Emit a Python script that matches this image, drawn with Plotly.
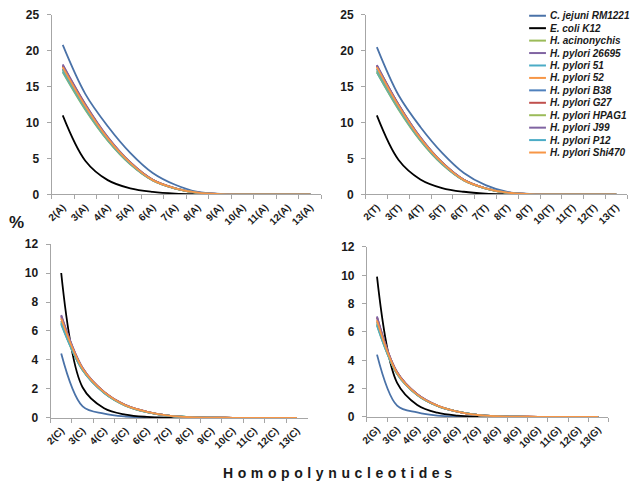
import plotly.graph_objects as go

W, H = 631, 491
FONT = "Arial, Liberation Sans, sans-serif"

strains = ["C. jejuni RM1221", "E. coli K12", "H. acinonychis", "H. pylori 26695",
           "H. pylori 51", "H. pylori 52", "H. pylori B38", "H. pylori G27",
           "H. pylori HPAG1", "H. pylori J99", "H. pylori P12", "H. pylori Shi470"]
colors = ["#4a72a8", "#000000", "#9bbb59", "#8064a2", "#4bacc6", "#f79646",
          "#4f81bd", "#c0504d", "#9bbb59", "#8064a2", "#4bacc6", "#f79646"]

cats_A = ["2(A)", "3(A)", "4(A)", "5(A)", "6(A)", "7(A)", "8(A)", "9(A)", "10(A)", "11(A)", "12(A)", "13(A)"]
cats_T = ["2(T)", "3(T)", "4(T)", "5(T)", "6(T)", "7(T)", "8(T)", "9(T)", "10(T)", "11(T)", "12(T)", "13(T)"]
cats_C = ["2(C)", "3(C)", "4(C)", "5(C)", "6(C)", "7(C)", "8(C)", "9(C)", "10(C)", "11(C)", "12(C)", "13(C)"]
cats_G = ["2(G)", "3(G)", "4(G)", "5(G)", "6(G)", "7(G)", "8(G)", "9(G)", "10(G)", "11(G)", "12(G)", "13(G)"]

# percentages, one row per strain (same order as `strains`)
pct_A = [
    [20.8, 14.0, 9.5, 5.8, 3.0, 1.35, 0.35, 0.08, 0.02, 0.01, 0.0, 0.0],
    [11.0, 4.7, 2.0, 0.85, 0.36, 0.13, 0.05, 0.02, 0.01, 0.0, 0.0, 0.0],
    [17.0, 11.8, 7.5, 4.2, 1.95, 0.82, 0.24, 0.06, 0.02, 0.01, 0.0, 0.0],
    [18.1, 12.6, 8.0, 4.5, 2.05, 0.87, 0.26, 0.07, 0.02, 0.01, 0.0, 0.0],
    [17.1, 11.9, 7.55, 4.25, 1.95, 0.82, 0.24, 0.06, 0.02, 0.0, 0.0, 0.0],
    [17.8, 12.4, 7.85, 4.4, 2.0, 0.85, 0.25, 0.06, 0.02, 0.01, 0.0, 0.0],
    [17.5, 12.2, 7.7, 4.35, 2.0, 0.84, 0.25, 0.06, 0.02, 0.0, 0.0, 0.0],
    [17.9, 12.5, 7.9, 4.45, 2.05, 0.86, 0.26, 0.07, 0.02, 0.01, 0.0, 0.0],
    [17.3, 12.0, 7.6, 4.3, 1.97, 0.83, 0.24, 0.06, 0.02, 0.0, 0.0, 0.0],
    [18.0, 12.5, 7.95, 4.45, 2.05, 0.87, 0.26, 0.07, 0.02, 0.01, 0.0, 0.0],
    [17.4, 12.1, 7.65, 4.3, 1.98, 0.84, 0.25, 0.06, 0.02, 0.0, 0.0, 0.0],
    [17.7, 12.3, 7.8, 4.4, 2.0, 0.85, 0.25, 0.06, 0.02, 0.01, 0.0, 0.0],
]
pct_T = [
    [20.5, 13.8, 9.4, 5.8, 3.0, 1.3, 0.35, 0.08, 0.02, 0.01, 0.0, 0.0],
    [11.0, 4.8, 2.1, 0.9, 0.38, 0.13, 0.05, 0.02, 0.01, 0.0, 0.0, 0.0],
    [17.0, 11.8, 7.5, 4.2, 1.95, 0.82, 0.24, 0.06, 0.02, 0.01, 0.0, 0.0],
    [18.0, 12.5, 7.95, 4.45, 2.05, 0.87, 0.26, 0.07, 0.02, 0.01, 0.0, 0.0],
    [17.0, 11.9, 7.55, 4.25, 1.95, 0.82, 0.24, 0.06, 0.02, 0.0, 0.0, 0.0],
    [17.8, 12.4, 7.85, 4.4, 2.0, 0.85, 0.25, 0.06, 0.02, 0.01, 0.0, 0.0],
    [17.5, 12.2, 7.7, 4.35, 2.0, 0.84, 0.25, 0.06, 0.02, 0.0, 0.0, 0.0],
    [17.9, 12.5, 7.9, 4.45, 2.05, 0.86, 0.26, 0.07, 0.02, 0.01, 0.0, 0.0],
    [17.2, 12.0, 7.6, 4.3, 1.97, 0.83, 0.24, 0.06, 0.02, 0.0, 0.0, 0.0],
    [18.0, 12.5, 7.95, 4.45, 2.05, 0.87, 0.26, 0.07, 0.02, 0.01, 0.0, 0.0],
    [17.4, 12.1, 7.65, 4.3, 1.98, 0.84, 0.25, 0.06, 0.02, 0.0, 0.0, 0.0],
    [17.7, 12.3, 7.8, 4.4, 2.0, 0.85, 0.25, 0.06, 0.02, 0.01, 0.0, 0.0],
]
pct_C = [
    [4.45, 0.8, 0.3, 0.1, 0.03, 0.01, 0.0, 0.0, 0.0, 0.0, 0.0, 0.0],
    [10.0, 2.1, 0.67, 0.23, 0.07, 0.02, 0.01, 0.0, 0.0, 0.0, 0.0, 0.0],
    [6.5, 3.3, 1.75, 0.85, 0.4, 0.15, 0.05, 0.02, 0.01, 0.0, 0.0, 0.0],
    [7.1, 3.45, 1.8, 0.88, 0.42, 0.16, 0.05, 0.02, 0.01, 0.0, 0.0, 0.0],
    [6.45, 3.3, 1.72, 0.85, 0.4, 0.15, 0.05, 0.02, 0.0, 0.0, 0.0, 0.0],
    [6.9, 3.4, 1.78, 0.87, 0.42, 0.16, 0.05, 0.02, 0.01, 0.0, 0.0, 0.0],
    [6.7, 3.35, 1.75, 0.86, 0.41, 0.15, 0.05, 0.02, 0.0, 0.0, 0.0, 0.0],
    [7.0, 3.4, 1.8, 0.88, 0.42, 0.16, 0.05, 0.02, 0.01, 0.0, 0.0, 0.0],
    [6.6, 3.3, 1.74, 0.85, 0.4, 0.15, 0.05, 0.02, 0.0, 0.0, 0.0, 0.0],
    [7.05, 3.45, 1.8, 0.88, 0.42, 0.16, 0.05, 0.02, 0.01, 0.0, 0.0, 0.0],
    [6.55, 3.3, 1.73, 0.85, 0.4, 0.15, 0.05, 0.02, 0.0, 0.0, 0.0, 0.0],
    [6.85, 3.4, 1.78, 0.87, 0.42, 0.16, 0.05, 0.02, 0.01, 0.0, 0.0, 0.0],
]
pct_G = [
    [4.4, 0.8, 0.32, 0.1, 0.03, 0.01, 0.0, 0.0, 0.0, 0.0, 0.0, 0.0],
    [9.9, 2.4, 0.85, 0.3, 0.1, 0.03, 0.01, 0.0, 0.0, 0.0, 0.0, 0.0],
    [6.5, 3.05, 1.55, 0.78, 0.37, 0.14, 0.05, 0.02, 0.01, 0.0, 0.0, 0.0],
    [7.1, 3.15, 1.6, 0.8, 0.38, 0.14, 0.05, 0.02, 0.01, 0.0, 0.0, 0.0],
    [6.45, 3.05, 1.55, 0.78, 0.37, 0.14, 0.05, 0.02, 0.0, 0.0, 0.0, 0.0],
    [6.85, 3.1, 1.58, 0.8, 0.38, 0.14, 0.05, 0.02, 0.01, 0.0, 0.0, 0.0],
    [6.7, 3.1, 1.57, 0.79, 0.37, 0.14, 0.05, 0.02, 0.0, 0.0, 0.0, 0.0],
    [7.0, 3.15, 1.6, 0.8, 0.38, 0.14, 0.05, 0.02, 0.01, 0.0, 0.0, 0.0],
    [6.6, 3.05, 1.56, 0.78, 0.37, 0.14, 0.05, 0.02, 0.0, 0.0, 0.0, 0.0],
    [7.05, 3.15, 1.6, 0.8, 0.38, 0.14, 0.05, 0.02, 0.01, 0.0, 0.0, 0.0],
    [6.55, 3.05, 1.56, 0.78, 0.37, 0.14, 0.05, 0.02, 0.0, 0.0, 0.0, 0.0],
    [6.8, 3.1, 1.58, 0.8, 0.38, 0.14, 0.05, 0.02, 0.01, 0.0, 0.0, 0.0],
]

y_ranges = [[0, 25], [0, 25], [0, 12], [0, 12]]
y_dticks = [5, 5, 2, 2]

# panel boxes in pixels: (left, right, top, bottom)
boxes = [(45, 318, 8, 193), (363, 627, 8, 193), (44, 304, 244, 423), (364, 608, 247, 422)]

panels = [(cats_A, pct_A), (cats_T, pct_T), (cats_C, pct_C), (cats_G, pct_G)]

fig = go.Figure()
AX = "#a6a6a6"
for i, ((cats, pct), (l, r, t, b)) in enumerate(zip(panels, boxes)):
    n = "" if i == 0 else str(i + 1)
    for s, name in enumerate(strains):
        fig.add_trace(go.Scatter(
            x=cats, y=pct[s], name=name, mode="lines",
            line=dict(color=colors[s], width=1.8, shape="spline", smoothing=1.0),
            xaxis="x" + n, yaxis="y" + n, showlegend=False))
    fig.layout["xaxis" + n] = dict(
        domain=[l / W, r / W], anchor="y" + n, type="category",
        categoryorder="array", categoryarray=cats, range=[-0.5, len(cats) - 0.5],
        tickson="boundaries", ticks="outside", ticklen=4, tickcolor=AX,
        showline=True, linecolor=AX, linewidth=1, showgrid=False, zeroline=False,
        tickangle=-45, ticklabelstandoff=2,
        tickfont=dict(family=FONT, size=10, color="#1a1a1a", weight="bold"))
    fig.layout["yaxis" + n] = dict(
        domain=[(H - b) / H, (H - t) / H], anchor="x" + n,
        range=y_ranges[i], dtick=y_dticks[i], ticks="outside", ticklen=4, tickcolor=AX,
        showline=True, linecolor=AX, linewidth=1, showgrid=False, zeroline=False,
        ticklabelstandoff=5,
        tickfont=dict(family=FONT, size=12, color="#1a1a1a", weight="bold"))

# legend drawn as line samples and labels
shapes = []
annotations = []
for k, (name, col) in enumerate(zip(strains, colors)):
    yc = 9 + k * 12.8
    shapes.append(dict(type="line", xref="paper", yref="paper",
                       x0=528 / W, x1=545 / W, y0=(H - yc) / H, y1=(H - yc) / H,
                       line=dict(color=col, width=2)))
    annotations.append(dict(text=name, xref="paper", yref="paper", x=547 / W,
                            y=(H - yc) / H, xanchor="left", yanchor="middle",
                            showarrow=False,
                            font=dict(family=FONT, size=10, color="#1a1a1a",
                                      weight="bold", style="italic")))

annotations.append(dict(text="%", xref="paper", yref="paper", x=10 / W, y=(H - 222) / H,
                        xanchor="center", yanchor="middle", showarrow=False,
                        font=dict(family=FONT, size=17, color="#1a1a1a", weight="bold")))
annotations.append(dict(text='<span style="letter-spacing:4.6px">Homopolynucleotides</span>',
                        xref="paper", yref="paper", x=337 / W, y=(H - 480) / H,
                        xanchor="center", yanchor="middle", showarrow=False,
                        font=dict(family=FONT, size=14, color="#1a1a1a", weight="bold")))

fig.update_layout(width=W, height=H, margin=dict(l=0, r=0, t=0, b=0),
                  paper_bgcolor="white", plot_bgcolor="white",
                  shapes=shapes, annotations=annotations, showlegend=False)

fig.write_html("out.html", config={"displayModeBar": False},
               post_script="document.body.style.margin='0px';document.body.style.padding='0px';")
